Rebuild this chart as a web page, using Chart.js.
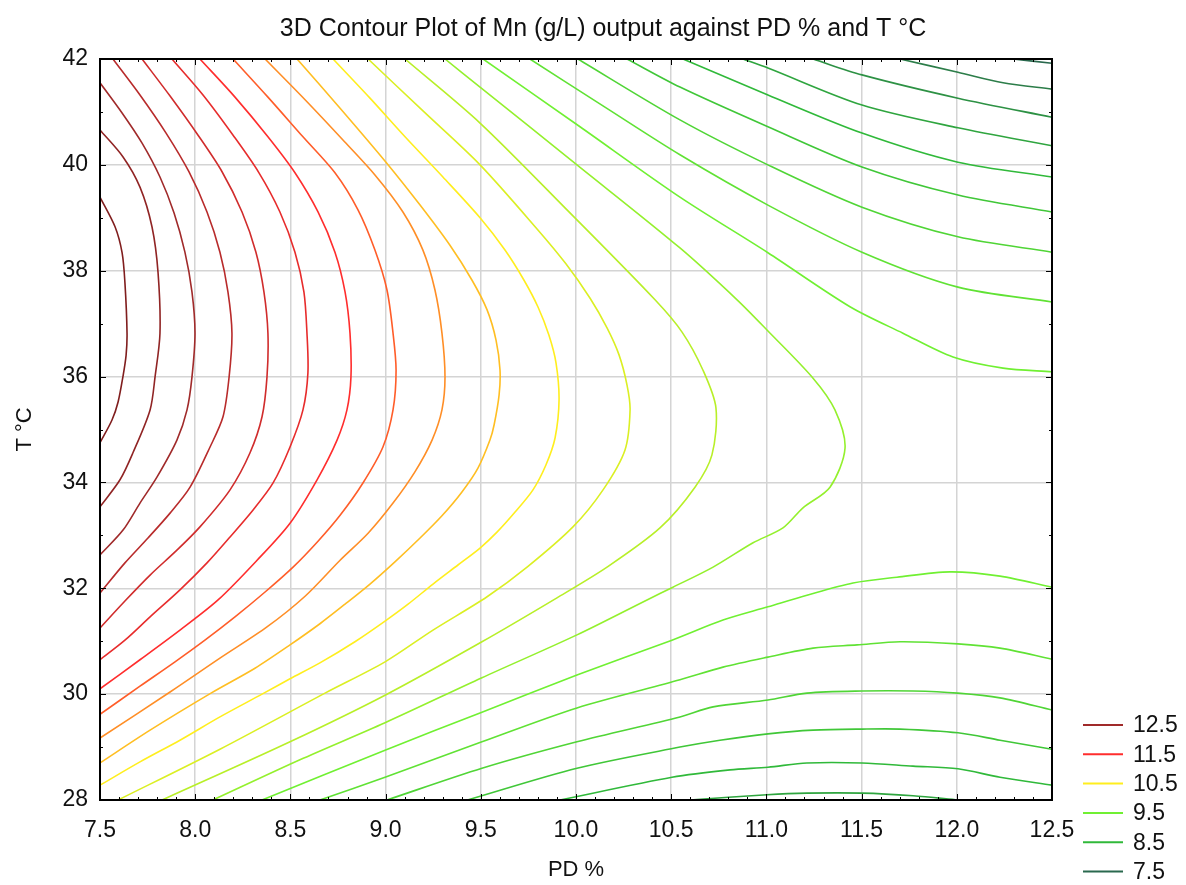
<!DOCTYPE html>
<html>
<head>
<meta charset="utf-8">
<title>3D Contour Plot of Mn</title>
<script src="https://cdn.jsdelivr.net/npm/chart.js@4.4.1/dist/chart.umd.min.js"></script>
<style>
  html, body { margin: 0; padding: 0; background: #fff; }
  #wrap { width: 1186px; height: 885px; }
</style>
</head>
<body>
<div id="wrap"><canvas id="contour" width="1186" height="885"></canvas></div>
<script>
const chartTitle = '3D Contour Plot of Mn (g/L) output against PD % and T °C';

// axis tick labels
const xTickLabels = ['7.5', '8.0', '8.5', '9.0', '9.5', '10.0', '10.5', '11.0', '11.5', '12.0', '12.5'];
const yTickLabels = ['28', '30', '32', '34', '36', '38', '40', '42'];
const legendLevels = [12.5, 11.5, 10.5, 9.5, 8.5, 7.5];

// traced contour lines, [PD %, T °C] pairs, named by Mn level (g/L)
const c1300 = [[7.5,39.39],[7.579,38.83],[7.616,38.34],[7.631,37.77],[7.642,36.82],[7.637,36.4],[7.621,36.01],[7.595,35.52],[7.563,35.18],[7.5,34.75]];
const c1275 = [[7.5,40.66],[7.621,40.15],[7.71,39.58],[7.773,38.83],[7.805,37.96],[7.815,36.82],[7.789,35.99],[7.763,35.37],[7.673,34.56],[7.605,34.05],[7.5,33.54]];
const c1250 = [[7.5,41.55],[7.616,40.98],[7.721,40.41],[7.815,39.77],[7.889,39.09],[7.946,38.35],[7.983,37.6],[7.999,36.82],[7.983,35.99],[7.957,35.37],[7.904,34.8],[7.799,34.1],[7.71,33.61],[7.621,33.1],[7.5,32.63]];
const c1225 = [[7.568,42],[7.71,41.32],[7.847,40.6],[7.967,39.87],[8.062,39.11],[8.13,38.35],[8.172,37.6],[8.193,36.82],[8.178,35.99],[8.146,35.24],[8.078,34.67],[7.973,33.91],[7.868,33.42],[7.752,32.95],[7.631,32.48],[7.5,31.91]];
const c1200 = [[7.721,42],[7.868,41.3],[8.015,40.56],[8.141,39.87],[8.246,39.11],[8.319,38.35],[8.361,37.6],[8.382,36.82],[8.377,35.99],[8.351,35.24],[8.288,34.56],[8.183,33.86],[8.025,33.16],[7.904,32.72],[7.763,32.25],[7.631,31.76],[7.5,31.25]];
const c1175 = [[7.878,42],[8.041,41.32],[8.199,40.56],[8.335,39.85],[8.445,39.11],[8.524,38.35],[8.571,37.6],[8.587,36.82],[8.592,36.07],[8.566,35.37],[8.498,34.67],[8.409,33.99],[8.304,33.48],[8.183,32.97],[8.062,32.48],[7.92,31.97],[7.763,31.46],[7.631,31.02],[7.5,30.65]];
const c1150 = [[8.025,42],[8.209,41.28],[8.382,40.53],[8.524,39.85],[8.645,39.11],[8.734,38.35],[8.787,37.6],[8.813,36.82],[8.818,35.99],[8.797,35.37],[8.745,34.8],[8.64,34.05],[8.498,33.23],[8.325,32.53],[8.12,31.78],[7.92,31.21],[7.71,30.65],[7.5,30.1]];
const c1125 = [[8.199,42],[8.382,41.28],[8.566,40.53],[8.734,39.85],[8.855,39.15],[8.944,38.39],[9.007,37.64],[9.039,36.82],[9.055,36.12],[9.039,35.37],[8.986,34.67],[8.881,33.99],[8.761,33.38],[8.645,32.89],[8.514,32.4],[8.367,31.93],[8.209,31.46],[8.051,31.02],[7.894,30.61],[7.71,30.15],[7.5,29.62]];
const c1100 = [[8.367,42],[8.577,41.23],[8.776,40.47],[8.944,39.81],[9.091,39.11],[9.196,38.39],[9.259,37.64],[9.296,36.82],[9.312,35.99],[9.296,35.37],[9.244,34.8],[9.154,34.2],[9.039,33.61],[8.908,33.04],[8.761,32.53],[8.577,31.85],[8.377,31.27],[8.13,30.68],[7.868,30.04],[7.5,29.17]];
const c1075 = [[8.535,42],[8.761,41.07],[9.002,40.05],[9.181,39.24],[9.338,38.48],[9.454,37.82],[9.533,37.26],[9.58,36.69],[9.601,36.12],[9.596,35.65],[9.57,35.09],[9.548,34.8],[9.485,34.27],[9.401,33.82],[9.296,33.37],[9.181,32.95],[9.049,32.5],[8.918,32.08],[8.787,31.7],[8.655,31.33],[8.498,30.93],[8.314,30.49],[8.083,30.02],[7.763,29.32],[7.5,28.7]];
const c1050 = [[8.724,42],[8.918,41.26],[9.102,40.53],[9.301,39.77],[9.496,39.0],[9.627,38.39],[9.727,37.82],[9.801,37.31],[9.858,36.78],[9.895,36.26],[9.911,35.56],[9.89,34.84],[9.842,34.33],[9.774,33.86],[9.68,33.44],[9.585,33.06],[9.496,32.76],[9.38,32.44],[9.249,32.08],[9.118,31.7],[8.997,31.38],[8.839,30.99],[8.655,30.59],[8.498,30.29],[8.351,30.0],[8.13,29.57],[7.92,29.13],[7.71,28.72],[7.5,28.28]];
const c1025 = [[8.908,42],[9.202,41.0],[9.496,40.0],[9.8,38.77],[9.947,38.13],[10.074,37.48],[10.163,36.92],[10.226,36.41],[10.268,35.84],[10.284,35.37],[10.257,34.61],[10.142,33.86],[9.984,33.16],[9.743,32.4],[9.533,31.84],[9.249,31.21],[8.997,30.61],[8.682,30.02],[8.13,28.96],[7.595,28.0]];
const c1000 = [[9.102,42],[9.496,40.79],[9.958,39.13],[10.415,37.45],[10.557,36.84],[10.667,36.12],[10.735,35.41],[10.714,34.52],[10.625,33.91],[10.441,33.14],[10.163,32.4],[9.9,31.82],[9.506,30.99],[8.997,29.98],[8.498,29.1],[7.826,28.0]];
const c0975 = [[9.312,42],[9.496,41.47],[10.005,40.0],[10.546,38.43],[10.846,37.45],[11.003,36.88],[11.245,35.97],[11.36,35.37],[11.413,34.65],[11.334,33.91],[11.192,33.52],[11.087,33.14],[10.93,32.86],[10.72,32.4],[10.509,32.02],[10.373,31.78],[10.005,31.12],[9.506,30.31],[8.997,29.46],[8.55,28.76],[8.093,28.0]];
const c0950low = [[8.351,28.0],[8.997,28.94],[9.506,29.66],[10.005,30.36],[10.504,31.02],[10.772,31.4],[11.008,31.65],[11.213,31.87],[11.455,32.1],[11.686,32.21],[11.964,32.31],[12.227,32.23],[12.5,32.02]];
const c0925low = [[8.655,28.0],[8.997,28.43],[9.506,29.1],[10.005,29.74],[10.546,30.27],[10.772,30.51],[11.008,30.7],[11.245,30.87],[11.476,30.93],[11.702,30.99],[12.006,30.95],[12.227,30.87],[12.5,30.66]];
const c0900low = [[9.007,28.0],[9.506,28.6],[10.005,29.1],[10.546,29.57],[10.72,29.76],[11.008,29.89],[11.213,30.02],[11.502,30.06],[11.77,30.06],[12.006,30.02],[12.227,29.93],[12.5,29.7]];
const c0875low = [[9.43,28.0],[10.005,28.6],[10.546,29.0],[10.756,29.13],[11.008,29.25],[11.245,29.32],[11.502,29.34],[11.702,29.34],[12.006,29.27],[12.227,29.13],[12.5,28.96]];
const c0850low = [[9.916,28.0],[10.504,28.43],[10.809,28.57],[11.008,28.62],[11.213,28.7],[11.502,28.7],[11.77,28.64],[12.006,28.59],[12.227,28.43],[12.5,28.28]];
const c0825low = [[10.599,28.0],[11.003,28.1],[11.213,28.13],[11.502,28.13],[11.77,28.08],[12.006,28.0]];
const c0950high = [[9.512,42],[10.021,40.72],[10.546,39.39],[11.008,38.34],[11.439,37.32],[11.717,36.82],[11.98,36.37],[12.243,36.16],[12.5,36.09]];
const c0925high = [[9.758,42],[10.152,41.09],[10.546,40.19],[11.008,39.24],[11.502,38.35],[12.006,37.69],[12.5,37.41]];
const c0900high = [[10.01,42],[10.546,40.85],[11.008,40.0],[11.502,39.2],[12.006,38.64],[12.5,38.35]];
const c0875high = [[10.268,42],[10.546,41.47],[11.008,40.72],[11.502,39.96],[12.006,39.43],[12.5,39.11]];
const c0850high = [[10.562,42],[11.008,41.32],[11.502,40.6],[12.006,40.05],[12.5,39.77]];
const c0825high = [[10.877,42],[11.008,41.83],[11.502,41.13],[12.006,40.7],[12.5,40.36]];
const c0800 = [[11.245,42],[11.502,41.7],[12.006,41.26],[12.5,40.9]];
const c0775 = [[11.702,42],[12.006,41.75],[12.243,41.55],[12.5,41.43]];
const c0750 = [[12.295,42],[12.5,41.92]];

const contourLines = [
    [13.0, c1300], [12.75, c1275], [12.5, c1250], [12.25, c1225], [12.0, c1200],
    [11.75, c1175], [11.5, c1150], [11.25, c1125], [11.0, c1100], [10.75, c1075],
    [10.5, c1050], [10.25, c1025], [10.0, c1000], [9.75, c0975],
    [9.5, c0950low], [9.25, c0925low], [9.0, c0900low], [8.75, c0875low], [8.5, c0850low], [8.25, c0825low],
    [9.5, c0950high], [9.25, c0925high], [9.0, c0900high], [8.75, c0875high], [8.5, c0850high], [8.25, c0825high],
    [8.0, c0800], [7.75, c0775], [7.5, c0750]
];

// colour ramp (level -> rgb)
const colorStops = [
    [13.0, [128, 30, 30]],
    [12.5, [160, 42, 42]],
    [11.5, [255, 45, 45]],
    [10.5, [255, 238, 30]],
    [9.5, [112, 240, 50]],
    [8.5, [48, 185, 58]],
    [7.5, [42, 105, 78]]
];

function colorFor(level) {
    for (let i = 0; i < colorStops.length - 1; i++) {
        const [hi, c1] = colorStops[i];
        const [lo, c2] = colorStops[i + 1];
        if (level <= hi && level >= lo) {
            const t = (hi - level) / (hi - lo);
            const c = c1.map((v, k) => Math.round(v + (c2[k] - v) * t));
            return `rgb(${c[0]}, ${c[1]}, ${c[2]})`;
        }
    }
    return 'rgb(42, 105, 78)';
}

const FONT = 'Liberation Sans, Arial, sans-serif';

// title sits a bit right of the plot centre, as in the original
const titleText = {
    id: 'titleText',
    afterDraw(chart) {
        const { ctx } = chart;
        ctx.save();
        ctx.font = `25px ${FONT}`;
        ctx.fillStyle = '#111';
        ctx.textAlign = 'center';
        ctx.textBaseline = 'middle';
        ctx.fillText(chartTitle, 603, 29);
        ctx.restore();
    }
};

// inward tick marks + black frame
const frameTicks = {
    id: 'frameTicks',
    afterDatasetsDraw(chart) {
        const { ctx, chartArea: a, scales: { x, y } } = chart;
        ctx.save();
        ctx.strokeStyle = '#000';
        ctx.lineWidth = 1;
        ctx.beginPath();
        for (let i = 0; i <= 50; i++) {
            const px = Math.round(x.getPixelForValue(7.5 + i * 0.1)) + 0.5;
            const len = i % 5 === 0 ? 6 : 3;
            ctx.moveTo(px, a.bottom); ctx.lineTo(px, a.bottom - len);
            ctx.moveTo(px, a.top); ctx.lineTo(px, a.top + len);
        }
        for (let i = 0; i <= 14; i++) {
            const py = Math.round(y.getPixelForValue(28 + i)) + 0.5;
            const len = i % 2 === 0 ? 6 : 3;
            ctx.moveTo(a.left, py); ctx.lineTo(a.left + len, py);
            ctx.moveTo(a.right, py); ctx.lineTo(a.right - len, py);
        }
        ctx.stroke();
        ctx.lineWidth = 2;
        ctx.strokeRect(a.left, a.top, a.right - a.left, a.bottom - a.top);
        ctx.restore();
    }
};

// level legend in the lower right corner
const levelLegend = {
    id: 'levelLegend',
    afterDraw(chart) {
        const { ctx, chartArea: a } = chart;
        ctx.save();
        ctx.font = `23px ${FONT}`;
        ctx.textBaseline = 'middle';
        ctx.fillStyle = '#111';
        legendLevels.forEach((lv, i) => {
            const yy = a.bottom - 75 + i * 29.3;
            ctx.strokeStyle = colorFor(lv);
            ctx.lineWidth = 2;
            ctx.beginPath();
            ctx.moveTo(a.right + 31, yy);
            ctx.lineTo(a.right + 71, yy);
            ctx.stroke();
            ctx.fillText(lv.toFixed(1), a.right + 81, yy + 1);
        });
        ctx.restore();
    }
};

const datasets = contourLines.map(([level, pts]) => ({
    label: level.toFixed(2),
    data: pts.map(p => ({ x: p[0], y: p[1] })),
    showLine: true,
    borderColor: colorFor(level),
    borderWidth: 1.6,
    pointRadius: 0,
    pointHoverRadius: 0,
    tension: 0.3,
    fill: false
}));

new Chart(document.getElementById('contour'), {
    type: 'scatter',
    data: { datasets },
    options: {
        responsive: false,
        devicePixelRatio: 1,
        animation: false,
        layout: { padding: { top: 59, right: 134, bottom: 0, left: 0 } },
        plugins: {
            legend: { display: false },
            tooltip: { enabled: false },
            title: { display: false }
        },
        scales: {
            x: {
                type: 'linear',
                min: 7.5,
                max: 12.5,
                afterFit(scale) { scale.height = 85; },
                ticks: {
                    stepSize: 0.5,
                    padding: 17,
                    color: '#111',
                    font: { family: FONT, size: 23 },
                    callback: (v, i) => xTickLabels[i]
                },
                grid: { color: '#d4d4d4', lineWidth: 1.5, drawTicks: false },
                border: { display: false },
                title: {
                    display: true,
                    text: 'PD %',
                    color: '#111',
                    font: { family: FONT, size: 22 },
                    padding: { top: 0, bottom: 2 }
                }
            },
            y: {
                type: 'linear',
                min: 28,
                max: 42,
                afterFit(scale) { scale.width = 100; },
                ticks: {
                    stepSize: 2,
                    padding: 12,
                    color: '#111',
                    font: { family: FONT, size: 23 },
                    callback: (v, i) => yTickLabels[i]
                },
                grid: { color: '#d4d4d4', lineWidth: 1.5, drawTicks: false },
                border: { display: false },
                title: {
                    display: true,
                    text: 'T °C',
                    color: '#111',
                    font: { family: FONT, size: 22 },
                    padding: { top: 12, bottom: 0 }
                }
            }
        }
    },
    plugins: [frameTicks, levelLegend, titleText]
});
</script>
</body>
</html>
